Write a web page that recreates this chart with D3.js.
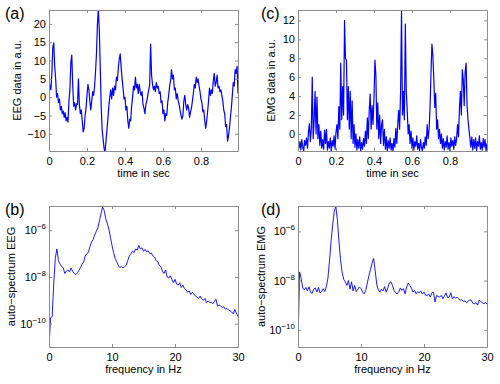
<!DOCTYPE html>
<html><head><meta charset="utf-8">
<script src="https://cdn.jsdelivr.net/npm/d3@7"></script>
<style>body{margin:0;background:#fff}svg{display:block}</style>
</head><body>
<script>
// ---------- data ----------
const eegTime = d3.range(0, 200).map(i => i * 0.005);
const eegValues = [4.5,3.0,2.0,6.5,13.5,14.8,8.5,5.0,0.0,1.0,-1.5,-0.5,-3.5,-2.5,-4.5,-3.8,-5.5,-4.2,-6.5,-5.5,
-6.8,-1.0,2.0,9.5,11.5,3.0,-2.5,-1.5,-3.5,-1.8,-2.0,5.0,-2.0,-4.5,-3.5,-6.5,-9.5,-8.5,-5.0,-3.0,
0.5,3.5,2.0,-1.0,-3.5,-1.0,1.5,0.5,3.0,7.0,12.0,20.0,24.0,18.0,8.0,-3.0,-9.0,-11.5,-14.0,-15.0,
-12.0,-9.0,-6.0,-2.5,0.0,2.0,-0.5,2.5,0.5,3.0,2.0,5.5,4.5,8.0,10.5,11.8,8.0,5.0,2.5,-0.5,
0.0,-3.5,-2.5,-6.5,-8.5,-6.0,-6.5,-2.5,0.0,3.0,2.0,5.5,2.5,3.5,1.0,3.5,1.5,0.5,1.5,-2.0,
-3.0,-4.5,-2.0,-1.0,0.5,2.0,3.5,14.5,6.0,3.5,2.0,3.0,1.5,4.0,2.5,3.0,1.0,1.5,-1.5,-1.0,
-4.5,-3.5,-6.5,-4.5,-5.0,-1.5,0.5,3.0,4.5,7.5,5.0,6.0,2.0,2.5,-0.5,1.0,-1.0,-2.0,-3.5,-5.0,
-6.0,-5.0,-1.0,0.5,-2.0,-3.5,-2.0,-3.0,-5.5,-4.0,-3.0,-1.0,1.0,3.5,2.5,5.5,4.0,5.0,3.0,1.5,
-0.5,-1.5,-4.0,-3.5,-6.5,-8.5,-6.5,-4.0,-1.0,2.5,0.5,2.0,1.0,4.5,6.5,3.0,4.0,6.0,2.5,3.0,
1.5,2.0,0.5,-1.0,-3.5,-4.5,-8.0,-7.5,-12.0,-10.5,-8.5,-5.5,-3.0,0.5,4.0,3.0,7.5,6.5,8.5,1.0];

const emgTime = d3.range(0, 200).map(i => i * 0.005);
const emgValues = [-0.5,-1.5,-0.8,-1.7,-0.6,-1.4,-1.8,-0.7,-1.2,-0.4,-1.5,0.2,1.1,-0.8,0.5,6.0,-0.5,1.5,4.5,0.0,
3.9,-0.5,1.0,-1.2,0.3,-1.5,-0.6,-1.6,0.4,-1.0,0.5,-1.7,-0.8,-1.5,-0.4,-1.8,-0.7,-1.3,-0.2,-1.6,
0.2,1.0,-0.5,2.9,0.5,7.5,1.5,5.0,2.0,12.0,8.0,7.8,1.5,5.0,0.5,4.5,-0.5,3.5,-1.0,1.0,
-1.4,0.0,-1.7,-0.6,-1.5,-0.3,-1.8,-0.9,-1.6,-0.5,-1.3,0.3,-1.0,1.7,-0.5,2.5,4.2,0.5,3.0,1.0,
3.8,7.8,6.2,0.5,3.3,-0.5,2.0,-1.0,1.0,1.5,-1.2,0.5,-1.6,-0.3,-1.8,-0.7,-1.5,-0.4,-1.7,-1.0,
-1.8,-0.5,-1.4,0.6,-1.0,1.0,2.5,0.5,4.5,13.0,2.0,4.5,1.5,11.6,4.5,2.5,0.0,1.0,-1.0,0.3,
-1.5,-0.4,-1.7,-0.8,-1.3,-0.2,-1.6,-1.0,-1.8,-0.6,-1.4,-1.8,-0.9,-1.5,-0.3,-1.2,1.0,-0.5,0.5,2.7,
6.3,9.5,8.3,5.8,2.8,4.3,0.5,1.5,-0.5,0.5,-1.0,0.0,-1.5,-0.5,-1.7,-0.8,-1.4,-0.2,-1.6,-0.9,
-1.8,-0.4,-1.3,-0.7,-1.6,-0.3,-1.2,-0.5,1.0,-0.3,2.7,4.5,2.0,6.8,5.8,3.0,6.6,7.5,3.0,1.5,
0.5,-0.5,-1.4,-0.3,-1.7,-0.6,-1.5,-0.4,-1.8,-0.8,-1.3,-0.2,-1.6,-0.9,-1.7,-0.5,-1.4,-0.6,-1.8,-1.0];

const specFreq = d3.range(0, 121).map(i => i * 0.25);
// log10 of auto-spectrum values
const eegSpecLog10 = [-11.0,-9.75,-9.7,-8.3,-7.2,-6.8,-7.3,-7.45,-7.55,-7.6,-7.85,-7.75,-7.7,-7.78,-7.62,-7.75,-7.85,-7.9,-7.82,-7.72,
-7.6,-7.45,-7.35,-7.1,-7.0,-6.95,-6.7,-6.5,-6.4,-6.2,-6.05,-5.9,-5.6,-5.3,-5.0,-5.15,-5.5,-5.7,-5.95,-6.3,
-6.65,-6.95,-7.2,-7.35,-7.5,-7.6,-7.55,-7.62,-7.55,-7.5,-7.3,-7.1,-7.0,-6.9,-6.95,-6.8,-6.85,-6.65,-6.8,-6.75,
-6.9,-6.82,-6.92,-6.88,-7.0,-6.98,-7.1,-7.15,-7.3,-7.35,-7.5,-7.55,-7.75,-7.85,-7.7,-8.0,-8.05,-7.95,-8.1,-8.25,
-8.1,-8.3,-8.35,-8.25,-8.45,-8.35,-8.5,-8.55,-8.65,-8.6,-8.75,-8.65,-8.75,-8.8,-8.88,-8.92,-8.82,-8.95,-9.0,-8.92,
-9.1,-9.02,-9.1,-9.08,-9.15,-9.05,-8.95,-9.25,-9.2,-9.25,-9.3,-9.28,-9.38,-9.35,-9.42,-9.45,-9.5,-9.58,-9.4,-9.55,-9.7];
const emgSpecLog10 = [-10.7,-7.65,-7.9,-8.3,-8.38,-8.28,-8.42,-8.25,-8.48,-8.52,-8.35,-8.3,-8.47,-8.28,-8.5,-8.45,-8.33,-8.45,-8.25,-7.9,
-7.2,-6.4,-5.75,-5.2,-4.97,-5.55,-6.4,-7.15,-7.65,-7.95,-8.05,-8.2,-8.0,-8.35,-8.05,-8.42,-8.2,-8.45,-8.35,-8.26,
-8.33,-8.47,-8.54,-8.4,-8.1,-7.8,-7.55,-7.3,-7.1,-7.6,-8.15,-8.38,-8.47,-8.35,-8.42,-8.25,-8.47,-8.3,-8.1,-8.05,
-8.2,-8.4,-8.5,-8.54,-8.45,-8.3,-8.4,-8.33,-8.54,-8.26,-8.1,-8.2,-8.3,-8.47,-8.4,-8.54,-8.45,-8.5,-8.42,-8.55,
-8.47,-8.6,-8.6,-8.55,-8.67,-8.5,-8.47,-8.87,-8.6,-8.65,-8.67,-8.6,-8.74,-8.62,-8.5,-8.7,-8.67,-8.5,-8.74,-8.65,
-8.72,-8.68,-8.74,-8.8,-8.78,-8.85,-8.82,-8.9,-8.85,-8.78,-8.8,-8.92,-8.94,-8.9,-9.0,-8.8,-8.85,-8.9,-8.94,-8.9,-8.95];

const timeTicks = [0, 0.2, 0.4, 0.6, 0.8];
const eegTicks = [-10, -5, 0, 5, 10, 15, 20];
const emgTicks = [0, 2, 4, 6, 8, 10, 12];
const freqTicks = [0, 10, 20, 30];
const logTicks = [-10, -8, -6];

// ---------- drawing ----------
const W = 500, H = 384;
const svg = d3.select("body").append("svg").attr("width", W).attr("height", H)
  .style("font-family", "'Liberation Sans', Arial, sans-serif");

const frameColor = "#8c8c8c";
const lineColor = "#0000ff";

function panel(opt) {
  const {x0, x1, y0, y1, xDomain, yScale, xTicks, yTicks, xs, ys, letter, xlabel, ylabel, letterX, log, lw, ylabelX} = opt;
  const x = d3.scaleLinear().domain(xDomain).range([x0, x1]);
  const y = yScale.range([y1, y0]);
  const g = svg.append("g");
  const clipId = "clip" + letter;
  svg.append("clipPath").attr("id", clipId).append("rect")
    .attr("x", x0).attr("y", y0).attr("width", x1 - x0).attr("height", y1 - y0);

  const line = d3.line().x((d, i) => x(xs[i])).y(d => y(d));
  g.append("path").datum(ys).attr("d", line)
    .attr("fill", "none").attr("stroke", lineColor).attr("stroke-width", lw)
    .attr("stroke-linejoin", "round").attr("clip-path", `url(#${clipId})`);

  const yt = log ? yTicks.map(e => Math.pow(10, e)) : yTicks;
  const ax = (gen, tx, ty) => g.append("g").attr("transform", `translate(${tx},${ty})`).call(gen);
  const bottom = ax(d3.axisBottom(x).tickValues(xTicks).tickSize(-3).tickSizeOuter(0).tickPadding(6)
    .tickFormat(d => String(d).replace("-", "\u2212")), 0, y1);
  const top = ax(d3.axisTop(x).tickValues(xTicks).tickSize(-3).tickSizeOuter(0).tickFormat(""), 0, y0);
  const left = ax(d3.axisLeft(y).tickValues(yt).tickSize(-3).tickSizeOuter(0).tickPadding(3)
    .tickFormat(d => String(d).replace("-", "\u2212")), x0, 0);
  const right = ax(d3.axisRight(y).tickValues(yt).tickSize(-3).tickSizeOuter(0).tickFormat(""), x1, 0);
  [bottom, top, left, right].forEach(a => {
    a.select(".domain").attr("stroke", frameColor);
    a.selectAll(".tick line").attr("stroke", frameColor);
    a.selectAll("text").attr("fill", "#000").attr("font-size", 11)
      .attr("font-family", "'Liberation Sans', Arial, sans-serif");
  });
  if (log) {
    left.selectAll(".tick text").each(function(d) {
      const t = d3.select(this);
      const e = Math.round(Math.log10(d));
      t.text("");
      t.append("tspan").text("10");
      t.append("tspan").attr("dy", "-5").attr("font-size", 8).text("\u2212" + Math.abs(e));
    });
  }
  g.append("text").attr("x", (x0 + x1) / 2).attr("y", y1 + 26).attr("text-anchor", "middle")
    .attr("font-size", 11).text(xlabel);
  g.append("text").attr("transform", `translate(${ylabelX},${(y0 + y1) / 2}) rotate(-90)`)
    .attr("text-anchor", "middle").attr("font-size", 11).text(ylabel);
  g.append("text").attr("x", letterX).attr("y", y0 + 9).attr("font-size", 16).text(`(${letter})`);
}

panel({x0: 49, x1: 238, y0: 10, y1: 151, xDomain: [0, 0.995], yScale: d3.scaleLinear().domain([-14.7, 23.8]),
  xTicks: timeTicks, yTicks: eegTicks, xs: eegTime, ys: eegValues, letter: "a", letterX: 5, ylabelX: 21,
  xlabel: "time in sec", ylabel: "EEG data in a.u.", log: false, lw: 1.2});
panel({x0: 298, x1: 487, y0: 10, y1: 151, xDomain: [0, 0.995], yScale: d3.scaleLinear().domain([-1.8, 13.1]),
  xTicks: timeTicks, yTicks: emgTicks, xs: emgTime, ys: emgValues, letter: "c", letterX: 261, ylabelX: 275,
  xlabel: "time in sec", ylabel: "EMG data in a.u.", log: false, lw: 1.2});
panel({x0: 49, x1: 238, y0: 206, y1: 347, xDomain: [0, 30], yScale: d3.scaleLog().domain([1e-11, Math.pow(10, -4.96)]),
  xTicks: freqTicks, yTicks: logTicks, xs: specFreq, ys: eegSpecLog10.map(e => Math.pow(10, e)), letter: "b", letterX: 5, ylabelX: 15,
  xlabel: "frequency in Hz", ylabel: "auto\u2212spectrum EEG", log: true, lw: 0.9});
panel({x0: 298, x1: 487, y0: 206, y1: 347, xDomain: [0, 30], yScale: d3.scaleLog().domain([Math.pow(10, -10.7), Math.pow(10, -4.97)]),
  xTicks: freqTicks, yTicks: logTicks, xs: specFreq, ys: emgSpecLog10.map(e => Math.pow(10, e)), letter: "d", letterX: 261, ylabelX: 265,
  xlabel: "frequency in Hz", ylabel: "auto\u2212spectrum EMG", log: true, lw: 0.9});
</script>
</body></html>
